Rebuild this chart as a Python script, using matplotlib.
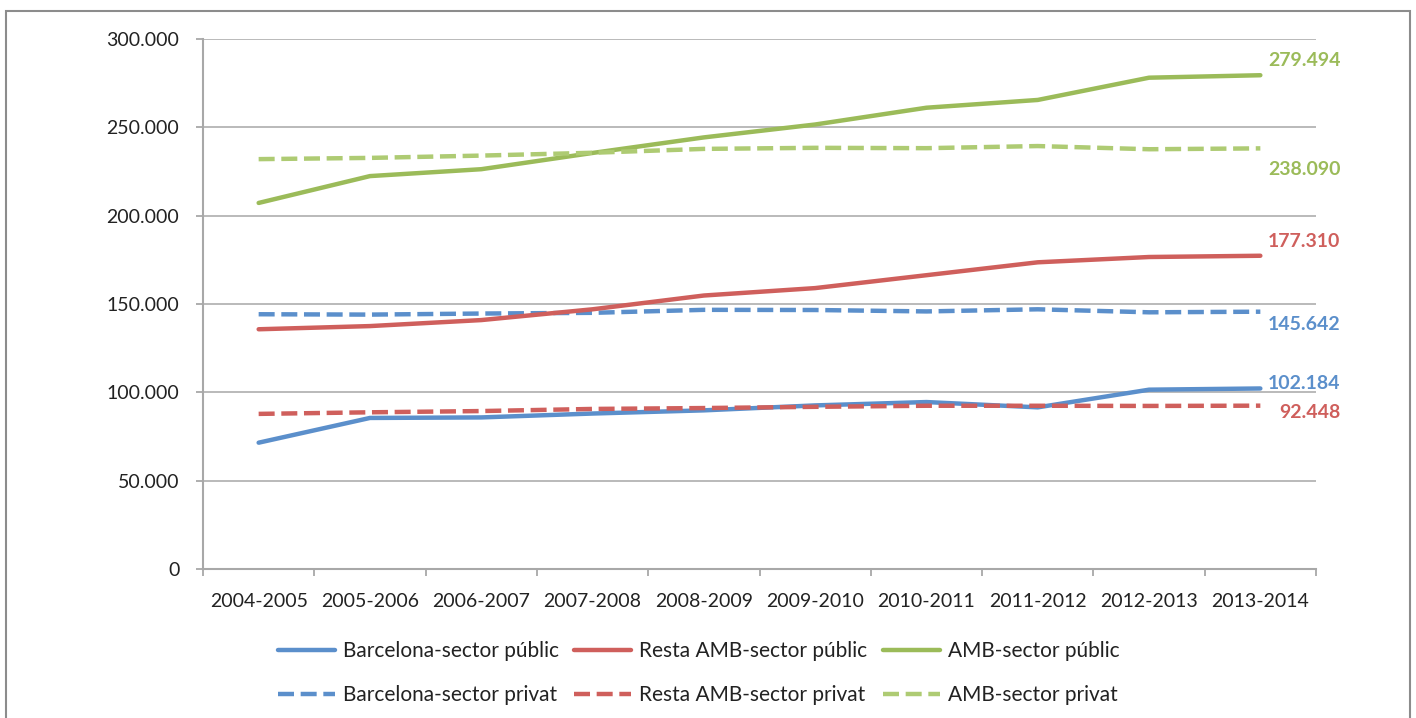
import matplotlib
matplotlib.use('Agg')
import matplotlib.pyplot as plt
from matplotlib.patches import Rectangle
from matplotlib.ticker import FuncFormatter, FixedLocator

plt.rcParams['font.family'] = ['Lato', 'DejaVu Sans']

# curs escolars
courses = ['2004-2005', '2005-2006', '2006-2007', '2007-2008', '2008-2009',
           '2009-2010', '2010-2011', '2011-2012', '2012-2013', '2013-2014']

# alumnes (valors llegits del grafic)
bcn_public = [71500, 85500, 85800, 88000, 89800, 92600, 94500, 91500, 101500, 102184]
resta_public = [135700, 137500, 140900, 147000, 154800, 159000, 166300, 173600, 176600, 177310]
amb_public = [207200, 222400, 226300, 235500, 244300, 251600, 261100, 265500, 278100, 279494]
bcn_privat = [144200, 144000, 144600, 145000, 146700, 146600, 145800, 147000, 145300, 145642]
resta_privat = [87800, 88700, 89400, 90600, 91100, 91800, 92400, 92400, 92300, 92448]
amb_privat = [232000, 232700, 234000, 235600, 237800, 238400, 238200, 239400, 237600, 238090]

blue = '#5B8FCB'
red = '#CF5F5C'
green = '#9BBB59'
green_light = '#AECB73'

fig = plt.figure(figsize=(14.16, 7.18), dpi=100)
ax = fig.add_axes([203/1416, 1 - 569/718, 1113/1416, 530/718])

x = list(range(len(courses)))
lw = 3.2
dash = (3.6, 1.5)

ax.plot(x, bcn_public, color=blue, lw=lw, solid_capstyle='round', label='Barcelona-sector públic', zorder=3)
ax.plot(x, bcn_privat, color=blue, lw=lw, dashes=dash, label='Barcelona-sector privat', zorder=3)
ax.plot(x, resta_public, color=red, lw=lw, solid_capstyle='round', label='Resta AMB-sector públic', zorder=3)
ax.plot(x, resta_privat, color=red, lw=lw, dashes=dash, label='Resta AMB-sector privat', zorder=3)
ax.plot(x, amb_public, color=green, lw=lw, solid_capstyle='round', label='AMB-sector públic', zorder=3)
ax.plot(x, amb_privat, color=green_light, lw=lw, dashes=dash, label='AMB-sector privat', zorder=3)

# etiquetes del darrer curs
ends = [(amb_public[-1], green, 10.8), (amb_privat[-1], green, -15),
        (resta_public[-1], red, 10), (bcn_privat[-1], blue, -9.5),
        (bcn_public[-1], blue, 3.5), (resta_privat[-1], red, -5)]
for val, col, dy in ends:
    txt = f'{val:,}'.replace(',', '.')
    ax.annotate(txt, xy=(x[-1], val), xytext=(57.6, dy), textcoords='offset points',
                ha='right', va='center', color=col, fontsize=14, fontweight='bold')

ax.set_xlim(-0.5, len(courses) - 0.5)
ax.set_ylim(0, 300000)
ax.set_yticks(range(0, 300001, 50000))
ax.yaxis.set_major_formatter(FuncFormatter(lambda v, p: f'{int(v):,}'.replace(',', '.')))
ax.set_xticks(x)
ax.set_xticklabels(courses)
ax.xaxis.set_minor_locator(FixedLocator([i - 0.5 for i in range(len(courses) + 1)]))

ax.grid(axis='y', color='#B4B4B4', lw=1.3, zorder=0)
for s in ['top', 'right']:
    ax.spines[s].set_visible(False)
for s in ['left', 'bottom']:
    ax.spines[s].set_color('#A8A8A8')
    ax.spines[s].set_linewidth(1.5)

ax.tick_params(axis='y', length=5, width=1.3, color='#A8A8A8', pad=12, labelsize=14, labelcolor='#222222')
ax.tick_params(axis='x', which='major', length=0, pad=17, labelsize=14, labelcolor='#222222')
ax.tick_params(axis='x', which='minor', length=5, width=1.3, color='#A8A8A8')

handles, labels = ax.get_legend_handles_labels()
fig.legend(handles, labels, ncol=3, loc='upper left', bbox_to_anchor=(278/1416, 1 - 641/718),
           frameon=False, fontsize=15, handlelength=2.75, handletextpad=0.38,
           columnspacing=0.72, labelspacing=1.15, borderaxespad=0, borderpad=0,
           labelcolor='#222222')

# marc exterior
fig.patches.append(Rectangle((6/1416, -0.05), 1404/1416, 1.05 - 11/718, transform=fig.transFigure,
                             fill=False, edgecolor='#8C8C8C', lw=1.5))

fig.savefig('out.png', dpi=100, facecolor='white')
